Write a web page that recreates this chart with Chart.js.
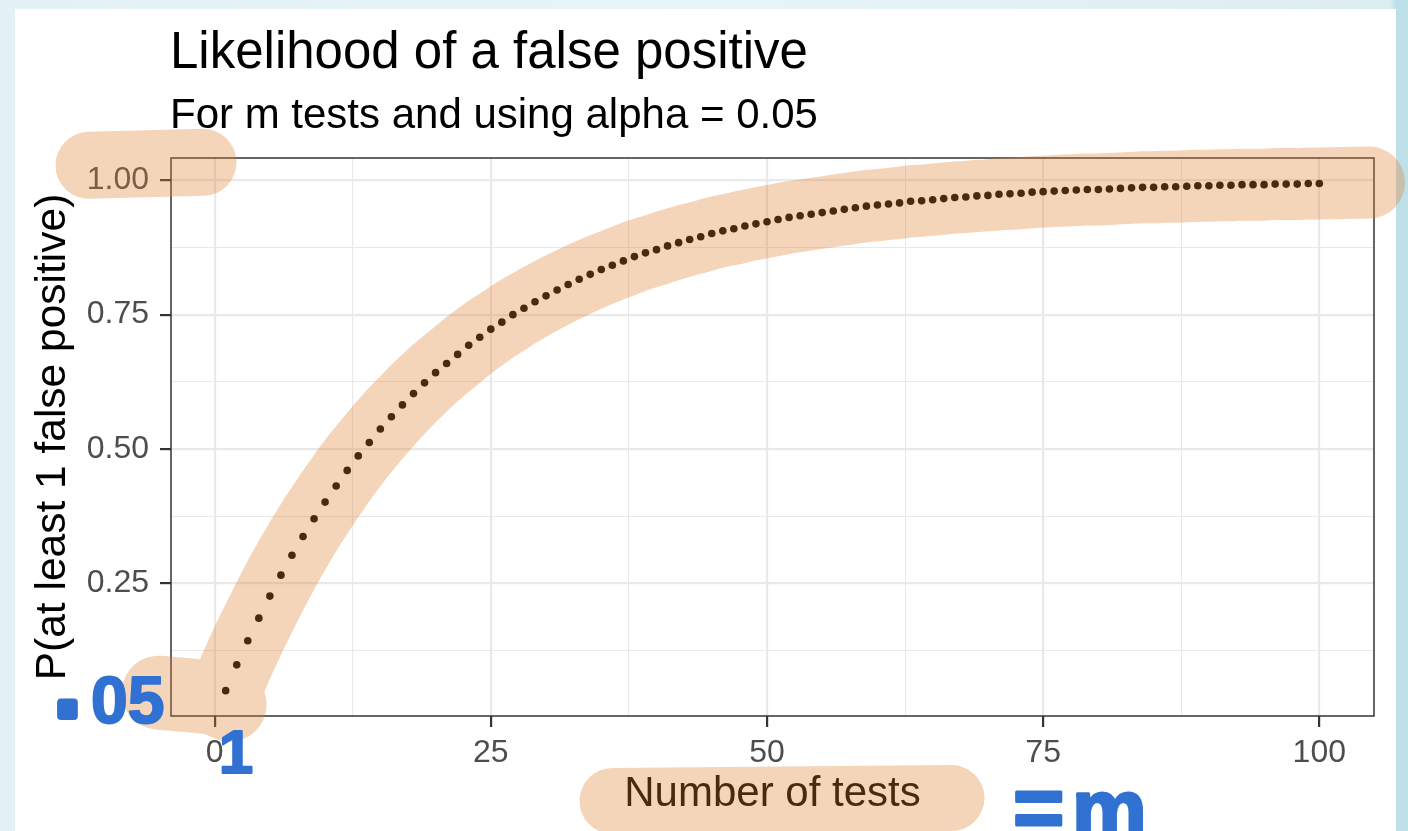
<!DOCTYPE html>
<html>
<head>
<meta charset="utf-8">
<script src="https://cdn.jsdelivr.net/npm/chart.js@4.4.1/dist/chart.umd.min.js"></script>
<style>
  html, body {
    margin: 0;
    padding: 0;
    width: 1408px;
    height: 831px;
    overflow: hidden;
    background: linear-gradient(90deg, #e3f0f5 0px, #e9f4f8 700px, #dcedf2 1390px, #bde0e9 1396px, #bde0e9 1408px);
  }
  #card {
    position: absolute;
    left: 15px;
    top: 9px;
    width: 1381px;
    height: 822px;
    background: #ffffff;
  }
  #chartBox {
    position: absolute;
    left: 0;
    top: 0;
    width: 1408px;
    height: 831px;
  }
</style>
</head>
<body>
<div id="card"></div>
<div id="chartBox">
  <canvas id="chart" width="1408" height="831"></canvas>
</div>
<script>
// number of tests m
const tests = [
  1, 2, 3, 4, 5, 6, 7, 8, 9, 10,
  11, 12, 13, 14, 15, 16, 17, 18, 19, 20,
  21, 22, 23, 24, 25, 26, 27, 28, 29, 30,
  31, 32, 33, 34, 35, 36, 37, 38, 39, 40,
  41, 42, 43, 44, 45, 46, 47, 48, 49, 50,
  51, 52, 53, 54, 55, 56, 57, 58, 59, 60,
  61, 62, 63, 64, 65, 66, 67, 68, 69, 70,
  71, 72, 73, 74, 75, 76, 77, 78, 79, 80,
  81, 82, 83, 84, 85, 86, 87, 88, 89, 90,
  91, 92, 93, 94, 95, 96, 97, 98, 99, 100
]

// P(at least 1 false positive) for each m
const pFalsePositive = [
  0.050, 0.098, 0.143, 0.185, 0.226, 0.265, 0.302, 0.337, 0.370, 0.401,
  0.431, 0.460, 0.487, 0.512, 0.537, 0.560, 0.582, 0.603, 0.623, 0.642,
  0.659, 0.676, 0.693, 0.708, 0.723, 0.736, 0.750, 0.762, 0.774, 0.785,
  0.796, 0.806, 0.816, 0.825, 0.834, 0.842, 0.850, 0.858, 0.865, 0.871,
  0.878, 0.884, 0.890, 0.895, 0.901, 0.906, 0.910, 0.915, 0.919, 0.923,
  0.927, 0.931, 0.934, 0.937, 0.940, 0.943, 0.946, 0.949, 0.952, 0.954,
  0.956, 0.958, 0.961, 0.962, 0.964, 0.966, 0.968, 0.969, 0.971, 0.972,
  0.974, 0.975, 0.976, 0.978, 0.979, 0.980, 0.981, 0.982, 0.983, 0.983,
  0.984, 0.985, 0.986, 0.987, 0.987, 0.988, 0.988, 0.989, 0.990, 0.990,
  0.991, 0.991, 0.992, 0.992, 0.992, 0.993, 0.993, 0.993, 0.994, 0.994
]

// grid positions (major ones get labels)
const xGrid = [0, 12.5, 25, 37.5, 50, 62.5, 75, 87.5, 100]
const xLabels = ['0', '', '25', '', '50', '', '75', '', '100']
const yGrid = [0.125, 0.25, 0.375, 0.5, 0.625, 0.75, 0.875, 1.0]
const yLabels = ['', '0.25', '', '0.50', '', '0.75', '', '1.00']

const titleText = 'Likelihood of a false positive'
const subtitleText = 'For m tests and using alpha = 0.05'

const FONT = '"Liberation Sans", Arial, Helvetica, sans-serif'
const HAND = '"Liberation Sans", Arial, sans-serif'
const markerColor = 'rgb(224, 127, 48)'
const penColor = '#3071d2'

const isMajor = (arr, labels, v) => labels[arr.indexOf(v)] !== ''

// title + subtitle left-aligned to the panel
const titlePlugin = {
  id: 'titles',
  afterDraw(chart) {
    const ctx = chart.ctx
    const left = chart.chartArea.left - 1
    ctx.save()
    ctx.fillStyle = '#000000'
    ctx.textAlign = 'left'
    ctx.textBaseline = 'alphabetic'
    ctx.font = '51px ' + FONT
    ctx.fillText(titleText, left, 68)
    ctx.font = '42px ' + FONT
    ctx.fillText(subtitleText, left, 128)
    ctx.restore()
  }
}

// panel border all round
const borderPlugin = {
  id: 'panelBorder',
  afterDatasetsDraw(chart) {
    const { ctx, chartArea: a } = chart
    ctx.save()
    ctx.strokeStyle = '#333333'
    ctx.lineWidth = 1.5
    ctx.strokeRect(a.left, a.top, a.right - a.left, a.bottom - a.top)
    ctx.restore()
  }
}

// highlighter strokes and pen notes on top of the plot
const notesPlugin = {
  id: 'notes',
  afterDraw(chart) {
    const { ctx, chartArea: a } = chart
    const xs = chart.scales.x
    const ys = chart.scales.y

    const layer = document.createElement('canvas')
    layer.width = chart.width
    layer.height = chart.height
    const hl = layer.getContext('2d')
    hl.strokeStyle = markerColor
    hl.lineCap = 'round'
    hl.lineJoin = 'round'

    // along the curve
    hl.lineWidth = 72
    hl.beginPath()
    for (let i = 0; i < tests.length; i++) {
      const px = xs.getPixelForValue(tests[i])
      const py = ys.getPixelForValue(pFalsePositive[i])
      if (i === 0) hl.moveTo(px, py)
      else hl.lineTo(px, py)
    }
    hl.lineTo(xs.getPixelForValue(104.5), ys.getPixelForValue(0.996))
    hl.stroke()

    // blob round the first point / y = .05
    const bx = xs.getPixelForValue(0)
    const by = ys.getPixelForValue(0.05)
    hl.lineWidth = 74
    hl.beginPath()
    hl.moveTo(bx - 56, by + 2)
    hl.lineTo(bx, by + 7)
    hl.lineTo(bx + 15, by + 14)
    hl.stroke()

    // the 1.00 label
    const y1 = ys.getPixelForValue(1)
    hl.lineWidth = 67
    hl.beginPath()
    hl.moveTo(a.left - 82, y1 - 15)
    hl.lineTo(a.left + 32, y1 - 18)
    hl.stroke()

    // x axis title
    const cx = (a.left + a.right) / 2
    hl.lineWidth = 66
    hl.beginPath()
    hl.moveTo(cx - 160, a.bottom + 85)
    hl.lineTo(cx + 179, a.bottom + 82)
    hl.stroke()

    ctx.save()
    ctx.globalAlpha = 0.33
    ctx.drawImage(layer, 0, 0)
    ctx.restore()

    // pen notes
    ctx.save()
    ctx.fillStyle = penColor
    ctx.strokeStyle = penColor
    ctx.lineJoin = 'round'
    ctx.textAlign = 'left'
    ctx.textBaseline = 'alphabetic'
    ctx.lineWidth = 8
    ctx.font = 'bold 90px ' + HAND
    ctx.fillText('.', 55, by + 25)
    ctx.strokeText('.', 55, by + 25)
    ctx.lineWidth = 2
    ctx.font = 'bold 66px ' + HAND
    ctx.fillText('05', 91, by + 32)
    ctx.strokeText('05', 91, by + 32)
    ctx.font = 'bold 62px ' + HAND
    ctx.fillText('1', bx + 4, a.bottom + 57)
    ctx.strokeText('1', bx + 4, a.bottom + 57)
    ctx.lineWidth = 3
    ctx.font = 'bold 88px ' + HAND
    ctx.fillText('=', 1013, 837)
    ctx.strokeText('=', 1013, 837)
    ctx.font = 'bold 84px ' + HAND
    ctx.fillText('m', 1072, 838)
    ctx.strokeText('m', 1072, 838)
    ctx.restore()
  }
}

const points = tests.map((m, i) => ({ x: m, y: pFalsePositive[i] }))

new Chart(document.getElementById('chart'), {
  type: 'scatter',
  data: {
    datasets: [{
      data: points,
      pointRadius: 3.8,
      pointHoverRadius: 3.8,
      pointBackgroundColor: '#000000',
      pointBorderWidth: 0,
      showLine: false
    }]
  },
  options: {
    responsive: false,
    animation: false,
    events: [],
    layout: {
      padding: { left: 20, top: 158, right: 34, bottom: 0 }
    },
    plugins: {
      legend: { display: false },
      tooltip: { enabled: false }
    },
    scales: {
      x: {
        type: 'linear',
        min: -3.95,
        max: 104.95,
        afterBuildTicks: (scale) => {
          scale.ticks = xGrid.map(v => ({ value: v }))
        },
        afterFit: (scale) => {
          scale.height = 115
        },
        ticks: {
          autoSkip: false,
          maxRotation: 0,
          padding: 7,
          color: '#4d4d4d',
          font: { family: FONT, size: 32 },
          callback: (v) => xLabels[xGrid.indexOf(v)]
        },
        grid: {
          color: '#e9e9e9',
          lineWidth: (c) => isMajor(xGrid, xLabels, c.tick.value) ? 2.2 : 1.1,
          tickColor: (c) => isMajor(xGrid, xLabels, c.tick.value) ? '#333333' : 'rgba(0,0,0,0)',
          tickLength: 11,
          tickWidth: 2.2
        },
        border: { display: false },
        title: {
          display: true,
          text: 'Number of tests',
          color: '#000000',
          font: { family: FONT, size: 42 },
          padding: { top: 0, bottom: 11 }
        }
      },
      y: {
        type: 'linear',
        min: 0.0028,
        max: 1.0416,
        afterBuildTicks: (scale) => {
          scale.ticks = yGrid.map(v => ({ value: v }))
        },
        afterFit: (scale) => {
          scale.width = 151
        },
        ticks: {
          autoSkip: false,
          padding: 11,
          color: '#4d4d4d',
          font: { family: FONT, size: 32 },
          callback: (v) => yLabels[yGrid.indexOf(v)]
        },
        grid: {
          color: '#e9e9e9',
          lineWidth: (c) => isMajor(yGrid, yLabels, c.tick.value) ? 2.2 : 1.1,
          tickColor: (c) => isMajor(yGrid, yLabels, c.tick.value) ? '#333333' : 'rgba(0,0,0,0)',
          tickLength: 11,
          tickWidth: 2.2
        },
        border: { display: false },
        title: {
          display: true,
          text: 'P(at least 1 false positive)',
          color: '#000000',
          font: { family: FONT, size: 42.5 },
          padding: { top: 8, bottom: 0 }
        }
      }
    }
  },
  plugins: [borderPlugin, titlePlugin, notesPlugin]
})
</script>
</body>
</html>
